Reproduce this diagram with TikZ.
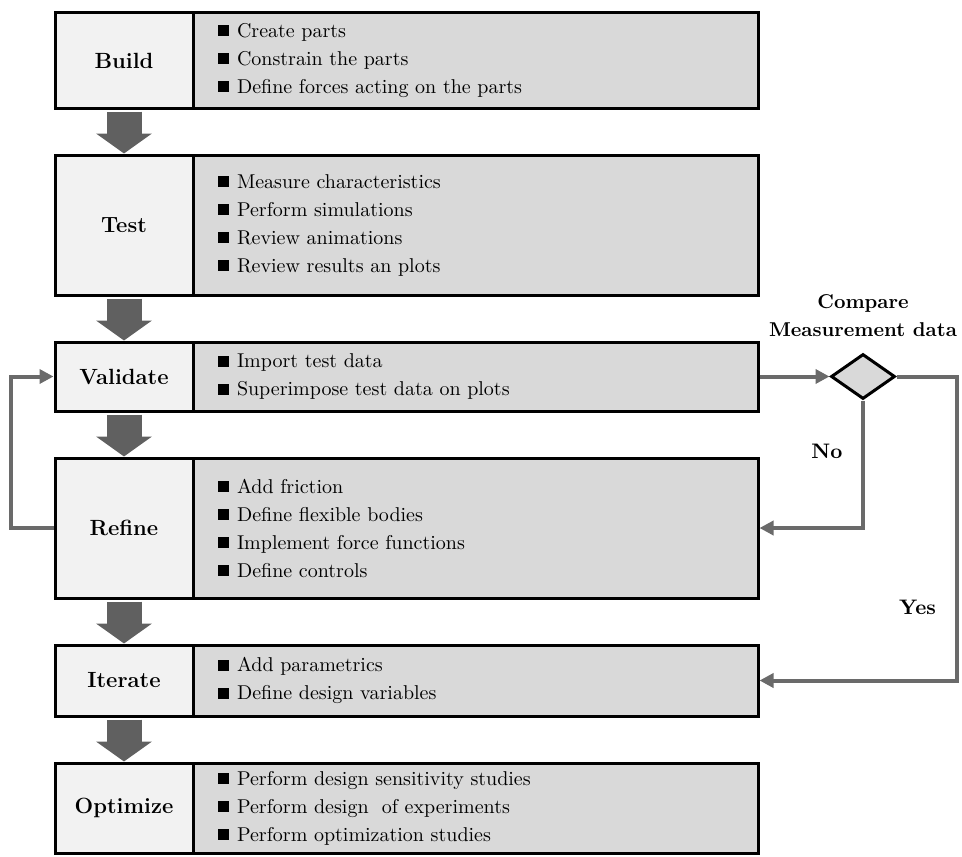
\documentclass[tikz,border=0pt]{standalone}
\usetikzlibrary{positioning,shapes.geometric,arrows.meta,shadows}

\definecolor{namefill}{HTML}{F2F2F2}
\definecolor{itemfill}{HTML}{D9D9D9}
\definecolor{blockgray}{HTML}{606060}
\definecolor{flowgray}{HTML}{6A6A6A}

% square bullet in front of each item
\newcommand{\itm}{\rule[0.05em]{0.55em}{0.55em}\hspace{0.4em}}

\tikzset{
  stagename/.style={draw, line width=1.5pt, fill=namefill, minimum width=69pt,
    font=\fontsize{11}{13}\selectfont\bfseries,
    drop shadow={shadow xshift=1pt, shadow yshift=-1pt, opacity=0.25}},
  stageitems/.style={draw, line width=1.5pt, fill=itemfill, text width=257.5pt,
    inner xsep=12.5pt, align=left, font=\fontsize{10}{14}\selectfont,
    drop shadow={shadow xshift=1pt, shadow yshift=-1pt, opacity=0.25},
    right=-1.5pt of #1},
  stagearrow/.style={draw=blockgray, line width=17.5pt,
    -{Triangle[width=27.5pt,length=10pt]}, shorten <=1pt},
  flowline/.style={draw=flowgray, line width=2pt, -{Triangle[length=7pt,width=7pt]}},
  decision/.style={diamond, draw, line width=1.5pt, fill=itemfill,
    minimum width=32pt, minimum height=22.5pt, inner sep=0pt},
  flowlabel/.style={font=\fontsize{10.5}{13}\selectfont\bfseries},
}

\begin{document}
\begin{tikzpicture}[x=0.5pt, y=-0.5pt, node distance=22pt]
  \useasboundingbox (0,0) rectangle (962,856);

  % stages
  \node[stagename, minimum height=47.5pt] (build) at (124,60.5) {Build};
  \node[stageitems=build, minimum height=47.5pt] (builditems)
    {\itm Create parts\\ \itm Constrain the parts\\ \itm Define forces acting on the parts};

  \node[stagename, minimum height=70pt, below=of build] (test) {Test};
  \node[stageitems=test, minimum height=70pt] (testitems)
    {\itm Measure characteristics\\ \itm Perform simulations\\ \itm Review animations\\ \itm Review results an plots};

  \node[stagename, minimum height=34.5pt, below=of test] (validate) {Validate};
  \node[stageitems=validate, minimum height=34.5pt] (valitems)
    {\itm Import test data\\ \itm Superimpose test data on plots};

  \node[stagename, minimum height=70pt, below=of validate] (refine) {Refine};
  \node[stageitems=refine, minimum height=70pt] (refitems)
    {\itm Add friction\\ \itm Define flexible bodies\\ \itm Implement force functions\\ \itm Define controls};

  \node[stagename, minimum height=35.5pt, below=of refine] (iterate) {Iterate};
  \node[stageitems=iterate, minimum height=35.5pt] (iteritems)
    {\itm Add parametrics\\ \itm Define design variables};

  \node[stagename, minimum height=45pt, below=of iterate] (optimize) {Optimize};
  \node[stageitems=optimize, minimum height=45pt] (optitems)
    {\itm Perform design sensitivity studies\\ \itm Perform design~ of experiments\\ \itm Perform optimization studies};

  % decision
  \node[decision, right=35pt of valitems] (compare) {};
  \node[flowlabel, font=\fontsize{10}{14}\selectfont\bfseries, align=center, above=4.5pt of compare] (comparelabel)
    {Compare\\Measurement data};
  \coordinate[right=30pt of compare.east] (yescorner);

  % block arrows
  \draw[stagearrow] (build) -- (test);
  \draw[stagearrow] (test) -- (validate);
  \draw[stagearrow] (validate) -- (refine);
  \draw[stagearrow] (refine) -- (iterate);
  \draw[stagearrow] (iterate) -- (optimize);

  % connectors
  \draw[flowline] (valitems.east) -- (compare.west);
  \draw[flowline] (compare.south) |- node[flowlabel, pos=0.2, left=6pt] {No} (refitems.east);
  \draw[flowline] (compare.east) -- (yescorner) |- node[flowlabel, pos=0.38, left=6pt] {Yes} (iteritems.east);
  \draw[flowline] (refine.west) -- ++(-21.5pt,0) |- (validate.west);
\end{tikzpicture}
\end{document}
